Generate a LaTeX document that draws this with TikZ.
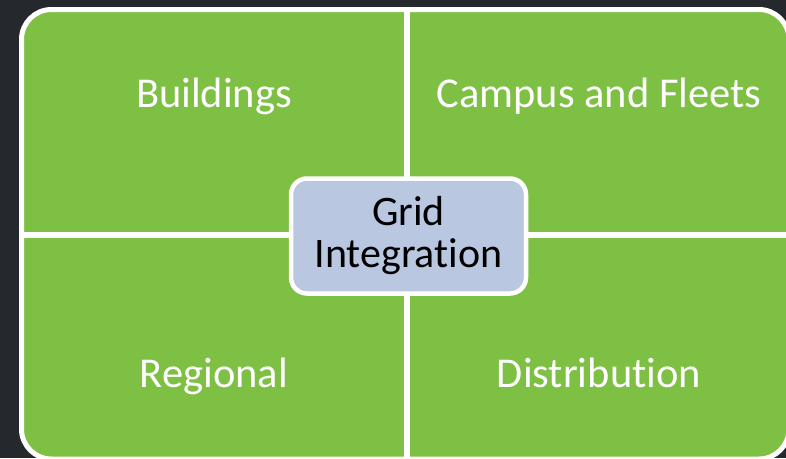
\documentclass[tikz,border=0pt]{standalone}
\usepackage{fontspec}
\setmainfont{Carlito}[RawFeature=-liga]
\usepackage{tikz}
\usetikzlibrary{
	positioning				% Allows relative placement
	, backgrounds
}

\definecolor{slate}{RGB}{37,40,44}
\definecolor{segmentgreen}{RGB}{125,192,67}
\definecolor{hubblue}{RGB}{186,199,225}

\begin{document}
\begin{tikzpicture}[x=1pt, y=-1pt
		, panel/.style={fill=segmentgreen, draw=white, line width=5pt, rounded corners=30pt}
		, divider/.style={draw=white, line width=6pt}
		, quadrantlabel/.style={text=white, anchor=base, font=\fontsize{42.5}{44}\selectfont}
		, hub/.style={fill=hubblue, draw=white, line width=4.5pt, rounded corners=16pt
			, minimum width=235pt, minimum height=115pt, align=center
			, font=\fontsize{42}{42}\selectfont}]

		%%% Canvas
		\fill[slate] (0,0) rectangle (786,458);
		\useasboundingbox (0,0) rectangle (786,458);

		%%% Quadrant panel
		\coordinate (paneltopleft) at (21.5,9.5);
		\coordinate (panelbottomright) at (789,459);
		\draw[panel] (paneltopleft) rectangle (panelbottomright);

		%% Dividers
		\coordinate (dividertop) at (407,9.5);
		\coordinate (dividerbottom) at (407,459);
		\coordinate (dividerleft) at (21.5,235);
		\coordinate (dividerright) at (789,235);
		\draw[divider] (dividertop) -- (dividerbottom);
		\draw[divider] (dividerleft) -- (dividerright);

		%%% Quadrant labels
		\node[quadrantlabel] (buildingslabel) at (214,107) {Buildings};
		\node[quadrantlabel] (campuslabel) at (599,107) {Campus and Fleets};
		\node[quadrantlabel] (regionallabel) at (214,387) {Regional};
		\node[quadrantlabel] (distributionlabel) at (599,387) {Distribution};

		%%% Centre
		\node[hub] (gridintegration) at (408.5,236) {Grid\\Integration};
	\end{tikzpicture}
\end{document}
